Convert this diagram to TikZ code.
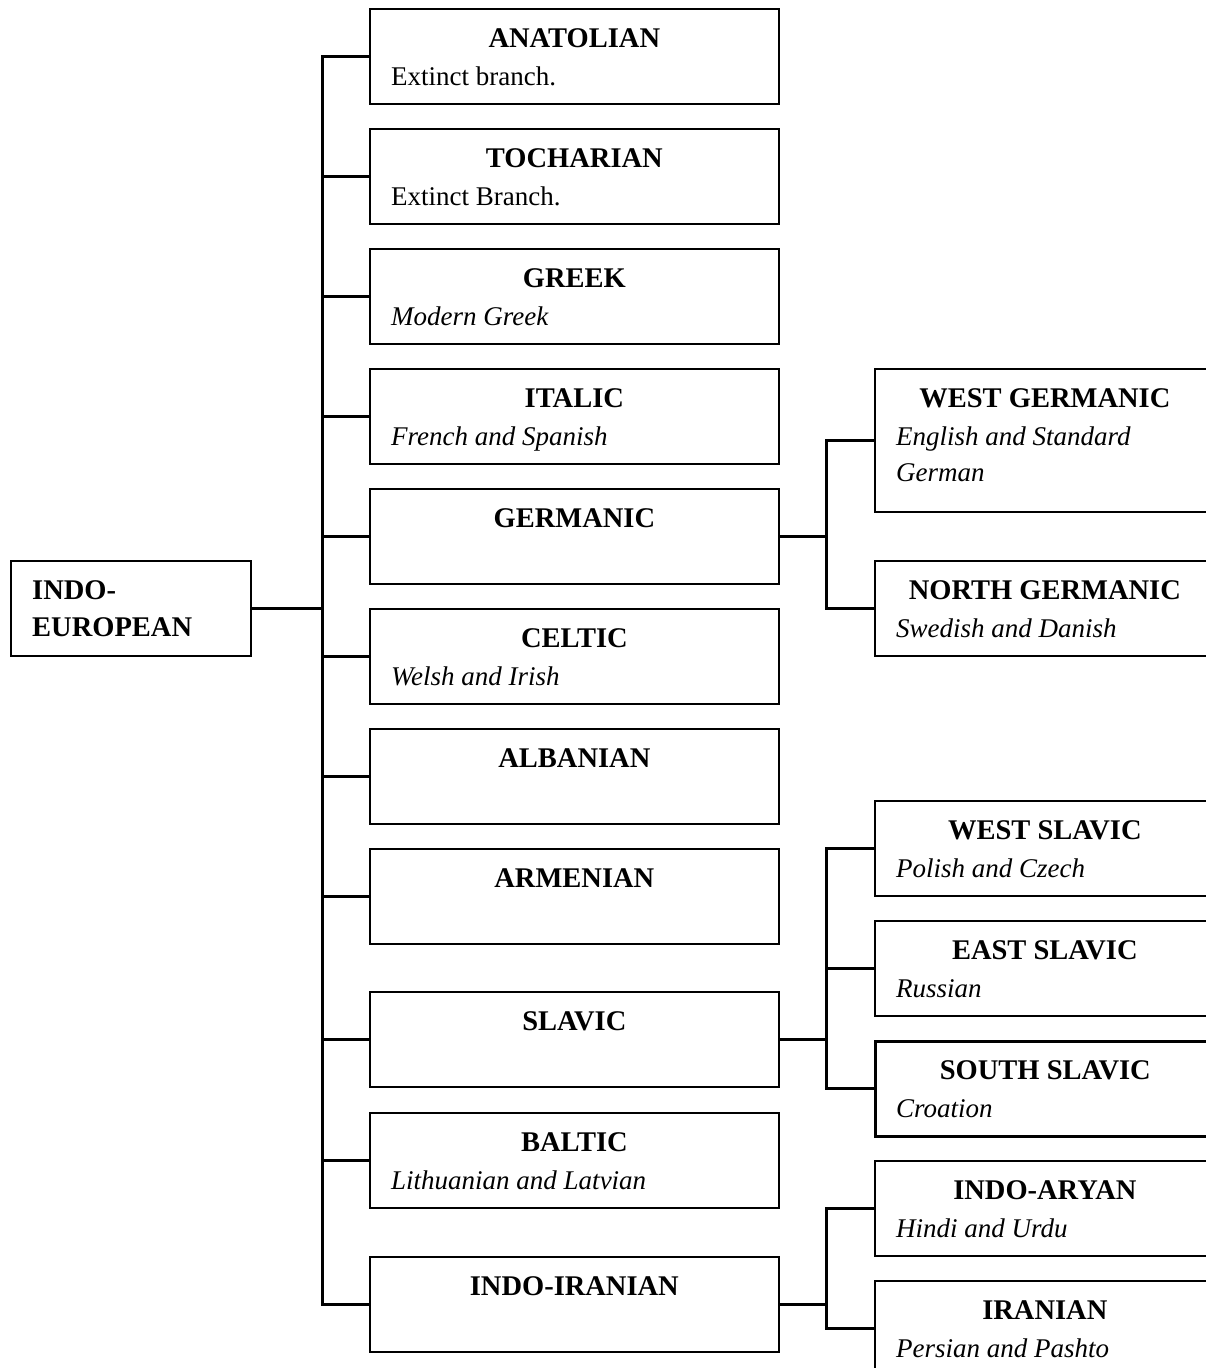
\documentclass[tikz,border=0pt]{standalone}
\usepackage{fontspec}
\setmainfont{Liberation Serif}
\usetikzlibrary{calc}
\begin{document}
\begin{tikzpicture}[x=1pt,y=-1pt,
  box/.style={draw, line width=1.7pt, minimum width=409pt, minimum height=95pt, inner sep=0pt, anchor=north west},
  rbox/.style={box, minimum width=340pt},
  conn/.style={line width=3pt},
  ttl/.style={font=\fontsize{28.5}{30}\selectfont\bfseries, anchor=base, inner sep=0pt},
  sub/.style={font=\fontsize{27}{30}\selectfont\itshape, anchor=base west, inner sep=0pt},
  subup/.style={font=\fontsize{27}{30}\selectfont, anchor=base west, inner sep=0pt}]
\useasboundingbox (0,0) rectangle (1206,1368);
\clip (0,0) rectangle (1206,1368);
\fill[white] (0,0) rectangle (1206,1368);

% root
\node[box, minimum width=240pt] (ie) at (10,560) {};
\node[ttl, anchor=base west] (ie-t1) at ($(ie.north west)+(22,39)$) {INDO-};
\node[ttl, anchor=base west] (ie-t2) at ($(ie.north west)+(22,76)$) {EUROPEAN};

% main column
\node[box] (ana) at (369,8) {};
\node[ttl] (ana-t) at ($(ana.north)+(0,39)$) {ANATOLIAN};
\node[subup] (ana-s) at ($(ana.north west)+(22,77)$) {Extinct branch.};

\node[box] (toc) at (369,128) {};
\node[ttl] (toc-t) at ($(toc.north)+(0,39)$) {TOCHARIAN};
\node[subup] (toc-s) at ($(toc.north west)+(22,77)$) {Extinct Branch.};

\node[box] (gre) at (369,248) {};
\node[ttl] (gre-t) at ($(gre.north)+(0,39)$) {GREEK};
\node[sub] (gre-s) at ($(gre.north west)+(22,77)$) {Modern Greek};

\node[box] (ita) at (369,368) {};
\node[ttl] (ita-t) at ($(ita.north)+(0,39)$) {ITALIC};
\node[sub] (ita-s) at ($(ita.north west)+(22,77)$) {French and Spanish};

\node[box] (ger) at (369,488) {};
\node[ttl] (ger-t) at ($(ger.north)+(0,39)$) {GERMANIC};

\node[box] (cel) at (369,608) {};
\node[ttl] (cel-t) at ($(cel.north)+(0,39)$) {CELTIC};
\node[sub] (cel-s) at ($(cel.north west)+(22,77)$) {Welsh and Irish};

\node[box] (alb) at (369,728) {};
\node[ttl] (alb-t) at ($(alb.north)+(0,39)$) {ALBANIAN};

\node[box] (arm) at (369,848) {};
\node[ttl] (arm-t) at ($(arm.north)+(0,39)$) {ARMENIAN};

\node[box] (sla) at (369,991) {};
\node[ttl] (sla-t) at ($(sla.north)+(0,39)$) {SLAVIC};

\node[box] (bal) at (369,1112) {};
\node[ttl] (bal-t) at ($(bal.north)+(0,39)$) {BALTIC};
\node[sub] (bal-s) at ($(bal.north west)+(22,77)$) {Lithuanian and Latvian};

\node[box] (iir) at (369,1256) {};
\node[ttl] (iir-t) at ($(iir.north)+(0,39)$) {INDO-IRANIAN};

% right column
\node[rbox, minimum height=143pt] (wg) at (874,368) {};
\node[ttl] (wg-t) at ($(wg.north)+(0,39)$) {WEST GERMANIC};
\node[sub] (wg-s1) at ($(wg.north west)+(22,77)$) {English and Standard};
\node[sub] (wg-s2) at ($(wg.north west)+(22,113)$) {German};

\node[rbox] (ng) at (874,560) {};
\node[ttl] (ng-t) at ($(ng.north)+(0,39)$) {NORTH GERMANIC};
\node[sub] (ng-s) at ($(ng.north west)+(22,77)$) {Swedish and Danish};

\node[rbox] (ws) at (874,800) {};
\node[ttl] (ws-t) at ($(ws.north)+(0,39)$) {WEST SLAVIC};
\node[sub] (ws-s) at ($(ws.north west)+(22,77)$) {Polish and Czech};

\node[rbox] (es) at (874,920) {};
\node[ttl] (es-t) at ($(es.north)+(0,39)$) {EAST SLAVIC};
\node[sub] (es-s) at ($(es.north west)+(22,77)$) {Russian};

\node[rbox, line width=2.6pt] (ss) at (874,1040) {};
\node[ttl] (ss-t) at ($(ss.north)+(0,39)$) {SOUTH SLAVIC};
\node[sub] (ss-s) at ($(ss.north west)+(22,77)$) {Croation};

\node[rbox] (ia) at (874,1160) {};
\node[ttl] (ia-t) at ($(ia.north)+(0,39)$) {INDO-ARYAN};
\node[sub] (ia-s) at ($(ia.north west)+(22,77)$) {Hindi and Urdu};

\node[rbox] (ir) at (874,1280) {};
\node[ttl] (ir-t) at ($(ir.north)+(0,39)$) {IRANIAN};
\node[sub] (ir-s) at ($(ir.north west)+(22,77)$) {Persian and Pashto};

% connectors
\coordinate (trunk) at (322,0);
\coordinate (fork) at (826,0);
\draw[conn, line cap=rect] (trunk |- ana.west) -- (trunk |- iir.west);
\draw[conn] (ie.east) -- (ie.east -| trunk);
\foreach \b in {ana,toc,gre,ita,ger,cel,alb,arm,sla,bal,iir}
  \draw[conn] (trunk |- \b.west) -- (\b.west);

\draw[conn] (ger.east) -- (ger.east -| fork);
\draw[conn, line cap=rect] (fork |- wg.west) -- (fork |- ng.west);
\foreach \b in {wg,ng} \draw[conn] (fork |- \b.west) -- (\b.west);

\draw[conn] (sla.east) -- (sla.east -| fork);
\draw[conn, line cap=rect] (fork |- ws.west) -- (fork |- ss.west);
\foreach \b in {ws,es,ss} \draw[conn] (fork |- \b.west) -- (\b.west);

\draw[conn] (iir.east) -- (iir.east -| fork);
\draw[conn, line cap=rect] (fork |- ia.west) -- (fork |- ir.west);
\foreach \b in {ia,ir} \draw[conn] (fork |- \b.west) -- (\b.west);
\end{tikzpicture}
\end{document}
